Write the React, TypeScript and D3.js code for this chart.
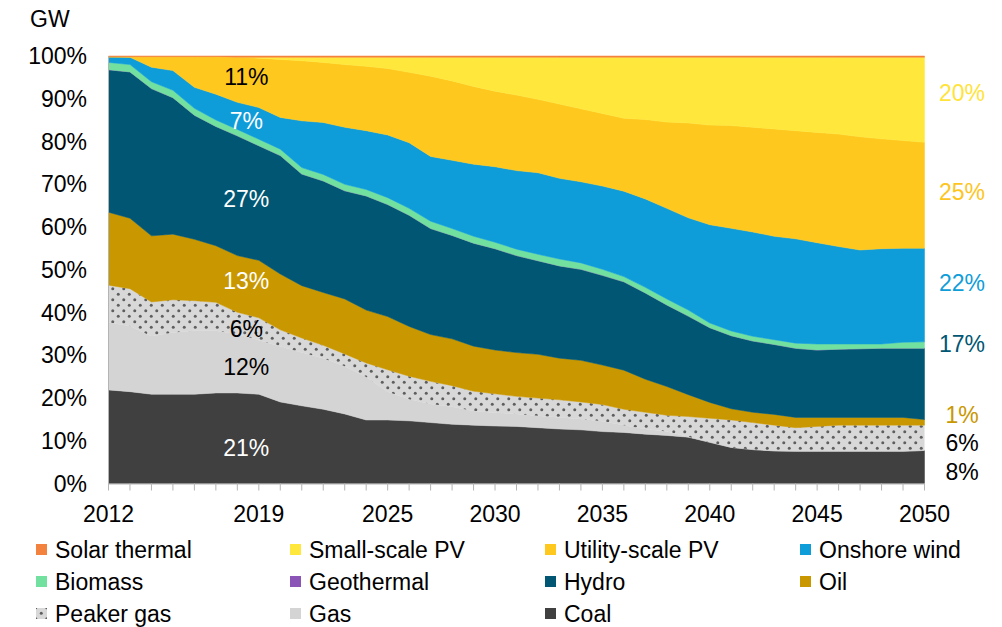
import React from 'react';
import * as d3 from 'd3';

const years = [2012, 2013, 2014, 2015, 2016, 2017, 2018, 2019, 2020, 2021, 2022, 2023, 2024, 2025, 2026, 2027, 2028, 2029, 2030, 2031, 2032, 2033, 2034, 2035, 2036, 2037, 2038, 2039, 2040, 2041, 2042, 2043, 2044, 2045, 2046, 2047, 2048, 2049, 2050];
const xTickLabels = [2012, 2019, 2025, 2030, 2035, 2040, 2045, 2050];
const yTickValues = [0, 0.1, 0.2, 0.3, 0.4, 0.5, 0.6, 0.7, 0.8, 0.9, 1];

// shares (%) per year, bottom to top
const coal = [21.8, 21.4, 20.8, 20.8, 20.8, 21.1, 21.1, 20.8, 19.0, 18.1, 17.3, 16.2, 14.8, 14.8, 14.6, 14.2, 13.8, 13.6, 13.4, 13.3, 13.0, 12.7, 12.5, 12.1, 11.9, 11.5, 11.2, 10.8, 9.6, 8.4, 7.9, 7.6, 7.5, 7.5, 7.5, 7.5, 7.5, 7.5, 7.7];
const gas = [15.7, 15.3, 13.5, 14.4, 14.8, 14.5, 13.7, 12.6, 12.9, 12.4, 11.9, 11.1, 10.0, 6.6, 5.0, 4.3, 4.1, 3.3, 3.1, 2.9, 2.8, 2.7, 2.5, 2.4, 1.7, 1.2, 0.9, 0.1, 0, 0, 0, 0, 0, 0, 0, 0, 0, 0, 0];
const peakerGas = [8.7, 8.7, 8.0, 7.6, 7.0, 6.6, 5.1, 5.2, 3.9, 3.4, 3.0, 2.9, 3.3, 5.1, 5.4, 5.3, 4.9, 4.6, 4.4, 4.1, 4.1, 4.1, 4.0, 3.9, 3.7, 3.9, 3.8, 4.7, 5.6, 6.4, 6.3, 6.0, 5.5, 5.8, 6.1, 6.1, 6.1, 6.1, 5.9];
const oil = [17.0, 16.4, 15.4, 15.3, 14.3, 13.2, 13.2, 13.4, 13.0, 12.2, 12.3, 12.8, 12.3, 12.4, 11.6, 10.9, 10.9, 10.5, 10.2, 10.2, 10.2, 9.7, 9.7, 9.2, 9.1, 7.7, 6.7, 5.1, 3.7, 2.6, 2.4, 2.5, 2.4, 2.1, 1.8, 1.8, 1.8, 1.8, 1.3];
const hydro = [33.2, 34.1, 34.3, 31.8, 28.9, 27.8, 27.9, 26.7, 27.6, 26.0, 26.0, 25.2, 26.6, 26.1, 25.9, 24.7, 24.1, 24.0, 23.6, 22.6, 21.8, 21.5, 21.2, 20.9, 20.6, 20.1, 19.0, 18.3, 17.4, 17.0, 16.6, 16.3, 16.1, 15.7, 15.9, 16.0, 16.1, 16.1, 16.6];
const geothermal = [0, 0, 0, 0, 0, 0, 0, 0, 0, 0, 0, 0, 0, 0, 0, 0, 0, 0, 0, 0, 0, 0, 0, 0, 0, 0, 0, 0, 0, 0, 0, 0, 0, 0, 0, 0, 0, 0, 0];
const biomass = [1.7, 1.7, 1.6, 1.7, 1.6, 1.5, 1.5, 1.5, 1.5, 1.5, 1.5, 1.5, 1.5, 1.6, 1.6, 1.7, 1.6, 1.6, 1.5, 1.5, 1.5, 1.6, 1.5, 1.4, 1.2, 1.3, 1.4, 1.4, 1.1, 1.1, 1.1, 1.1, 1.2, 1.4, 1.2, 1.1, 1.0, 1.4, 1.5];
const onshoreWind = [1.3, 1.7, 3.4, 4.6, 4.9, 6.0, 6.3, 7.4, 7.4, 10.9, 12.1, 13.3, 13.7, 14.6, 15.3, 15.1, 15.9, 16.8, 17.6, 18.3, 19.0, 18.8, 18.9, 19.4, 19.9, 20.6, 21.1, 21.5, 22.9, 23.9, 24.3, 24.1, 24.3, 23.6, 22.7, 21.9, 22.2, 21.9, 21.8];
const utilityPV = [0.0, 0.1, 2.4, 3.2, 7.1, 8.7, 10.5, 11.5, 13.5, 14.0, 14.0, 14.6, 15.0, 15.5, 16.4, 18.7, 18.5, 18.1, 17.6, 17.6, 17.1, 17.3, 17.0, 16.9, 17.0, 18.5, 20.1, 22.1, 23.2, 23.9, 24.4, 25.0, 25.2, 25.7, 26.2, 26.4, 25.6, 25.1, 24.7];
const smallPV = [0, 0, 0, 0, 0, 0, 0, 0.2, 0.5, 0.8, 1.2, 1.7, 2.1, 2.6, 3.5, 4.4, 5.5, 6.8, 7.9, 8.8, 9.8, 10.9, 12.0, 13.1, 14.2, 14.5, 15.1, 15.3, 15.8, 15.9, 16.3, 16.7, 17.1, 17.5, 17.9, 18.5, 19.0, 19.4, 19.8];
const solarThermal = [0.2, 0.2, 0.2, 0.2, 0.2, 0.2, 0.3, 0.3, 0.3, 0.3, 0.3, 0.3, 0.3, 0.3, 0.3, 0.3, 0.3, 0.3, 0.3, 0.3, 0.3, 0.3, 0.3, 0.3, 0.3, 0.3, 0.3, 0.3, 0.3, 0.3, 0.3, 0.3, 0.3, 0.3, 0.3, 0.3, 0.3, 0.3, 0.3];

const seriesNames = ['Coal', 'Gas', 'Peaker gas', 'Oil', 'Hydro', 'Geothermal', 'Biomass', 'Onshore wind', 'Utility-scale PV', 'Small-scale PV', 'Solar thermal'];
const seriesValues = [coal, gas, peakerGas, oil, hydro, geothermal, biomass, onshoreWind, utilityPV, smallPV, solarThermal];
const seriesColors: Record<string, string> = {
  'Solar thermal': '#F4823F',
  'Small-scale PV': '#FFE83B',
  'Utility-scale PV': '#FEC81F',
  'Onshore wind': '#0F9DDA',
  'Biomass': '#72E1A0',
  'Geothermal': '#8A55B6',
  'Hydro': '#005673',
  'Oil': '#C99700',
  'Peaker gas': 'url(#peakerDots)',
  'Gas': '#D4D4D4',
  'Coal': '#404040',
};

const legendRows = [
  ['Solar thermal', 'Small-scale PV', 'Utility-scale PV', 'Onshore wind'],
  ['Biomass', 'Geothermal', 'Hydro', 'Oil'],
  ['Peaker gas', 'Gas', 'Coal'],
];

// annotation labels: text, share level, colour
const innerLabels = [
  { text: '11%', level: 0.952, color: '#000000' },
  { text: '7%', level: 0.847, color: '#FFFFFF' },
  { text: '27%', level: 0.665, color: '#FFFFFF' },
  { text: '13%', level: 0.473, color: '#FFFFFF' },
  { text: '6%', level: 0.361, color: '#000000' },
  { text: '12%', level: 0.273, color: '#000000' },
  { text: '21%', level: 0.084, color: '#FFFFFF' },
];
const endLabels = [
  { text: '20%', level: 0.913, color: '#FFE33B' },
  { text: '25%', level: 0.683, color: '#FDC51E' },
  { text: '22%', level: 0.469, color: '#0F9DDA' },
  { text: '17%', level: 0.326, color: '#005673' },
  { text: '1%', level: 0.160, color: '#C99700' },
  { text: '6%', level: 0.095, color: '#000000' },
  { text: '8%', level: 0.028, color: '#000000' },
];

const FONT = '"Liberation Sans", Arial, sans-serif';

export default function App() {
  const width = 1002;
  const height = 627;
  const x = d3.scaleLinear().domain([2012, 2050]).range([108.5, 924.5]);
  const y = d3.scaleLinear().domain([0, 1]).range([483.5, 56]);

  const table = years.map((yr, i) => {
    const row: any = { year: yr };
    seriesNames.forEach((n, k) => { row[n] = seriesValues[k][i]; });
    return row;
  });
  const layers = d3.stack<any>().keys(seriesNames).offset(d3.stackOffsetExpand)(table);
  const area = d3.area<any>()
    .x((d: any) => x(d.data.year))
    .y0((d: any) => y(d[0]))
    .y1((d: any) => y(d[1]));

  const axisColor = '#B4B4B4';
  const fs = 23;
  const colX = [36, 290, 545, 800];
  const rowY = [549.5, 581.5, 613.5];

  return (
    <svg width={width} height={height} style={{ position: 'absolute', left: 0, top: 0, background: '#fff' }} fontFamily={FONT}>
      <defs>
        <pattern id="peakerDots" width="11" height="11" patternUnits="userSpaceOnUse">
          <rect width="11" height="11" fill="#D8D8D8" />
          <circle cx="2.75" cy="2.75" r="1.5" fill="#5E5E5E" />
          <circle cx="8.25" cy="8.25" r="1.5" fill="#5E5E5E" />
        </pattern>
      </defs>
      <rect width={width} height={height} fill="#ffffff" />

      {layers.map((layer: any) => {
        const fill = seriesColors[layer.key];
        const solid = !fill.startsWith('url');
        return (
          <path key={layer.key} d={area(layer) || ''} fill={fill}
            stroke={solid ? fill : 'none'} strokeWidth={solid ? 0.5 : 0} />
        );
      })}

      {/* axes */}
      <line x1={x(2012)} x2={x(2012)} y1={y(1)} y2={y(0) + 6} stroke={axisColor} strokeWidth={1} />
      <line x1={x(2012)} x2={x(2050)} y1={y(0) + 0.5} y2={y(0) + 0.5} stroke={axisColor} strokeWidth={1.2} />
      {years.map((yr) => (
        <line key={yr} x1={x(yr)} x2={x(yr)} y1={y(0)} y2={y(0) + 7} stroke={axisColor} strokeWidth={1} />
      ))}
      {xTickLabels.map((yr) => (
        <text key={yr} x={x(yr)} y={521.5} textAnchor="middle" fontSize={fs} fill="#000">{yr}</text>
      ))}
      {yTickValues.map((v) => (
        <text key={v} x={87} y={y(v)} textAnchor="end" dominantBaseline="central" fontSize={fs} fill="#000">
          {Math.round(v * 100) + '%'}
        </text>
      ))}
      <text x={30} y={27} fontSize={fs} fill="#000">GW</text>

      {innerLabels.map((l, i) => (
        <text key={'in' + i} x={x(2019) - 12.5} y={y(l.level)} textAnchor="middle" dominantBaseline="central" fontSize={fs} fill={l.color}>{l.text}</text>
      ))}
      {endLabels.map((l, i) => (
        <text key={'end' + i} x={x(2050) + 37.5} y={y(l.level)} textAnchor="middle" dominantBaseline="central" fontSize={fs} fill={l.color}>{l.text}</text>
      ))}

      {legendRows.map((row, r) => row.map((name, c) => (
        <g key={name}>
          <rect x={colX[c]} y={rowY[r] - 5.5} width={11} height={11} fill={seriesColors[name]} />
          <text x={colX[c] + 19} y={rowY[r]} dominantBaseline="central" fontSize={fs} fill="#000">{name}</text>
        </g>
      )))}
    </svg>
  );
}
